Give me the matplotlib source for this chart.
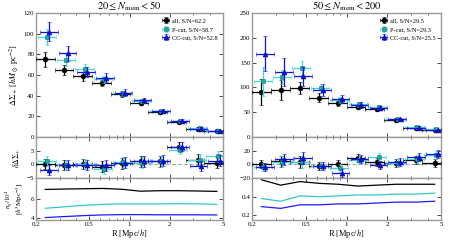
import numpy as np
import matplotlib
matplotlib.use("Agg")
import matplotlib.pyplot as plt
from matplotlib.ticker import FixedLocator, FixedFormatter, NullFormatter

plt.rcParams['font.family'] = ['Liberation Serif', 'DejaVu Serif']
plt.rcParams['mathtext.fontset'] = 'stix'

# radial bins
R_edges = [0.2, 0.2759, 0.3807, 0.5253, 0.7248, 1.0, 1.3797, 1.9037, 2.6265, 3.6239, 5.0]
R = [0.235, 0.326, 0.453, 0.628, 0.872, 1.21, 1.68, 2.33, 3.24, 4.49]

# ---- left: 20 <= N_mem < 50
L_all = [75.2, 64.6, 58.6, 52.2, 41.6, 32.5, 24.0, 14.7, 8.0, 5.8]
L_all_e = [7, 5, 4, 3, 2.5, 2, 1.5, 1.2, 1, 0.8]
L_p = [97, 74.5, 66, 56, 42.5, 35, 25, 15.5, 8.5, 6.2]
L_p_e = [8, 6, 4.5, 3.5, 2.5, 2, 1.5, 1.2, 1, 0.8]
L_cc = [102, 81, 63, 57.5, 43, 35.5, 25.5, 15.5, 8.0, 6.0]
L_cc_e = [9, 7, 5, 4, 3, 2.5, 2, 1.5, 1.2, 1]
L_res_all = [0.0, -0.2, 0.1, -0.85, 0.4, 1.1, 1.2, 6.5, 1.6, 0.6]
L_res_p = [1.3, -0.4, 0.2, -1.7, 0.7, 0.6, 1.1, 5.4, 1.6, 3.0]
L_res_cc = [-2.1, -0.1, -0.1, -0.4, 0.6, 1.1, 1.3, 6.5, -0.6, 1.3]
L_res_e = [1.8, 1.8, 1.8, 2.0, 2.0, 2.0, 2.0, 1.8, 2.0, 2.0]
L_n_all = [6.93, 6.97, 7.0, 7.03, 6.95, 6.75, 6.8, 6.8, 6.77, 6.73]
L_n_p = [5.0, 5.15, 5.3, 5.4, 5.45, 5.45, 5.45, 5.47, 5.45, 5.4]
L_n_cc = [4.05, 4.15, 4.25, 4.32, 4.35, 4.35, 4.33, 4.33, 4.33, 4.32]
L_sn = [62.2, 58.7, 52.8]

# ---- right: 50 <= N_mem < 200
R_all = [91.4, 94.7, 99, 79.6, 68.4, 60.5, 56.6, 34, 19, 14]
R_all_e = [26, 20, 12, 9, 6, 5, 4, 3, 2.5, 2]
R_p = [112, 121, 139, 98, 73.7, 66, 60.5, 36, 20, 16]
R_p_e = [30, 15, 14, 8, 6, 5, 4, 3, 2.5, 2]
R_cc = [168, 131, 122, 95, 76, 64, 58.5, 35.5, 19, 14.5]
R_cc_e = [35, 28, 20, 12, 8, 6, 5, 3.5, 3, 2.5]
R_res_all = [0, 4.4, 3.9, -2.4, 1.0, 8.8, 2.9, 1.5, 6.3, 2.4]
R_res_p = [-4.4, 3.9, 3.4, -2.0, -5.9, 6.3, 10.2, 2.4, 7.3, 13.7]
R_res_cc = [-3.4, 7.3, 8.8, -2.4, -13.2, 7.8, -1.0, 2.9, 11.2, 14.6]
R_res_e = [6, 8, 9, 6, 6, 6, 6, 6, 6, 6]
R_n_all = [0.59, 0.53, 0.57, 0.55, 0.54, 0.52, 0.53, 0.54, 0.54, 0.54]
R_n_p = [0.38, 0.35, 0.41, 0.40, 0.41, 0.42, 0.42, 0.43, 0.43, 0.44]
R_n_cc = [0.29, 0.27, 0.31, 0.31, 0.32, 0.32, 0.33, 0.34, 0.34, 0.35]
R_sn = [29.5, 29.3, 25.5]

titles = [r'$20 \leq N_{\rm mem} < 50$', r'$50 \leq N_{\rm mem} < 200$']

C_ALL = 'black'
C_P_E = '#40d8d0'
C_P_F = '#20a8a8'
C_CC = '#1010ee'
SPINE = '#999999'

fig = plt.figure(figsize=(4.5, 2.4), dpi=100)

lefts = [36/450, 252/450]
widths = [(223-36)/450, (441-252)/450]
main_b, main_t = 1-137/240, 1-13/240
res_b = 1-178/240
bot_b = 1-220/240

R = np.array(R)
edges = np.array(R_edges)
xlo = R - edges[:-1]
xhi = edges[1:] - R

panels = [
    dict(all=L_all, all_e=L_all_e, p=L_p, p_e=L_p_e, cc=L_cc, cc_e=L_cc_e,
         ra=L_res_all, rp=L_res_p, rc=L_res_cc, re=L_res_e,
         na=L_n_all, np_=L_n_p, nc=L_n_cc, sn=L_sn,
         ylim=(0, 120), yt=[0, 20, 40, 60, 80, 100, 120],
         rlim=(-5, 10), rt=[-5, 0, 5],
         nlim=(3.8, 8.1), nt=[4, 6]),
    dict(all=R_all, all_e=R_all_e, p=R_p, p_e=R_p_e, cc=R_cc, cc_e=R_cc_e,
         ra=R_res_all, rp=R_res_p, rc=R_res_cc, re=R_res_e,
         na=R_n_all, np_=R_n_p, nc=R_n_cc, sn=R_sn,
         ylim=(0, 250), yt=[0, 50, 100, 150, 200, 250],
         rlim=(-20, 40), rt=[-20, 0, 20],
         nlim=(0.14, 0.61), nt=[0.2, 0.4]),
]

shifts = [1.0, 1.03, 1.06]

def style(ax):
    ax.set_xscale('log')
    ax.set_xlim(0.2, 5)
    for s in ax.spines.values():
        s.set_color(SPINE)
        s.set_linewidth(1.0)
    ax.tick_params(which='both', direction='in', top=True, right=True,
                   labelsize=5, pad=1.2)
    ax.tick_params(which='major', length=3, width=0.5)
    ax.tick_params(which='minor', length=1.5, width=0.4)
    ax.xaxis.set_major_locator(FixedLocator([0.2, 0.5, 1, 2, 5]))
    ax.xaxis.set_minor_formatter(NullFormatter())

for i, P in enumerate(panels):
    axm = fig.add_axes([lefts[i], main_b, widths[i], main_t-main_b])
    axr = fig.add_axes([lefts[i], res_b, widths[i], main_b-res_b])
    axn = fig.add_axes([lefts[i], bot_b, widths[i], res_b-bot_b])
    for ax in (axm, axr, axn):
        style(ax)
    series = [
        (P['all'], P['all_e'], P['ra'], C_ALL, C_ALL, C_ALL, 'o', 'all', P['sn'][0]),
        (P['p'], P['p_e'], P['rp'], C_P_E, C_P_F, '#207070', 's', 'P-cut', P['sn'][1]),
        (P['cc'], P['cc_e'], P['rc'], C_CC, C_CC, '#000080', '^', 'CC-cut', P['sn'][2]),
    ]
    for k, (y, ye, ry, ec, fc, mec, mk, lab, sn) in enumerate(series):
        x = R * shifts[k]
        axm.errorbar(x, y, yerr=ye, xerr=[xlo, xhi], fmt=mk, ms=3.5,
                     color=ec, mfc=fc, mec=mec, mew=0.4, elinewidth=0.9,
                     capsize=1.2, capthick=0.6, zorder=3+k,
                     label=f'{lab}, S/N={sn}')
        axr.errorbar(x, ry, yerr=P['re'], xerr=[xlo, xhi], fmt=mk, ms=3.5,
                     color=ec, mfc=fc, mec=mec, mew=0.4, elinewidth=0.9,
                     capsize=1.2, capthick=0.6, zorder=3+k)
    axr.axhline(0, color='#aaaaaa', ls='--', lw=0.8, zorder=1)
    axn.plot(R, P['na'], color='black', lw=0.9)
    axn.plot(R, P['np_'], color='#30c8c8', lw=0.9)
    axn.plot(R, P['nc'], color='#1a1aff', lw=0.9)

    axm.set_ylim(*P['ylim'])
    axm.set_yticks(P['yt'])
    axm.tick_params(labelbottom=False)
    axr.set_ylim(*P['rlim'])
    axr.set_yticks(P['rt'])
    axr.tick_params(labelbottom=False)
    axn.set_ylim(*P['nlim'])
    axn.set_yticks(P['nt'])
    axn.xaxis.set_major_formatter(FixedFormatter(['0.2', '0.5', '1', '2', '5']))
    axn.set_xlabel(r'R [Mpc/$h$]', fontsize=6, labelpad=0)
    axm.set_title(titles[i], fontsize=7.5, pad=1.5)
    axm.legend(loc='upper right', fontsize=4.5, frameon=False, handlelength=1.0,
               handletextpad=0.6, borderaxespad=0.4, labelspacing=0.5,
               markerscale=1.0)
    if i == 0:
        axm.set_ylabel(r'$\Delta\Sigma_+$ [$hM_\odot$ pc$^{-2}$]', fontsize=6, labelpad=2)
        axr.set_ylabel(r'$\delta\Delta\Sigma_+$', fontsize=5.5, labelpad=4)
        axn.set_ylabel('$n_g/10^4$\n[$h^3$Mpc$^{-3}$]', fontsize=5, labelpad=4,
                       linespacing=1.0)

fig.savefig('out.png', dpi=100)
